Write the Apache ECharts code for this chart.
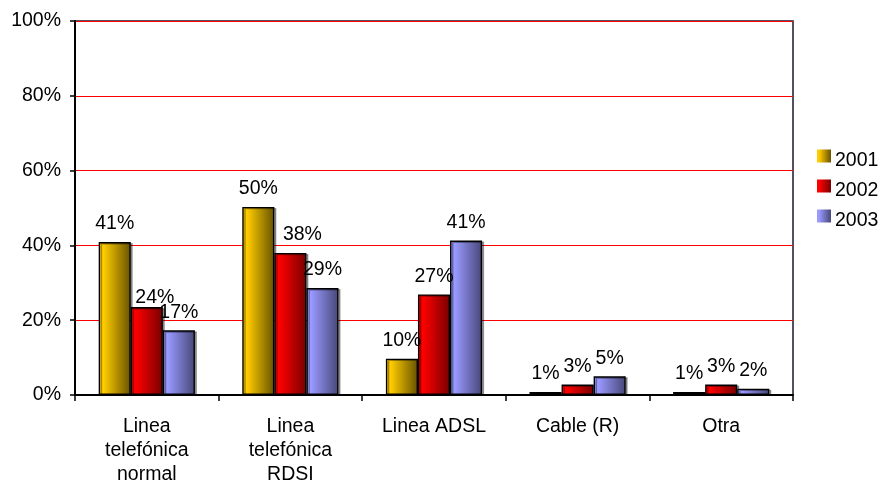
<!DOCTYPE html>
<html>
<head>
<meta charset="utf-8">
<script src="https://cdn.jsdelivr.net/npm/echarts@6/dist/echarts.min.js"></script>
<style>
html,body{margin:0;padding:0;background:#fff;}
#chart{width:882px;height:487px;}
</style>
</head>
<body>
<div id="chart"></div>
<script>
var categories = ['Linea\ntelefónica\nnormal', 'Linea\ntelefónica\nRDSI', 'Linea ADSL', 'Cable (R)', 'Otra'];
var seriesNames = ['2001', '2002', '2003'];
var values2001 = [40.9, 50.3, 9.7, 0.8, 0.8];
var values2002 = [23.5, 38.0, 26.9, 2.8, 2.8];
var values2003 = [17.3, 28.6, 41.3, 5.0, 1.7];
var yTicks = [0, 20, 40, 60, 80, 100];

var FONT = 'Liberation Sans, Arial, sans-serif';
var FS = 19.5;

function grad(c1, c2) {
  return new echarts.graphic.LinearGradient(0, 0, 1, 0, [
    {offset: 0, color: c1},
    {offset: 0.15, color: c1},
    {offset: 1, color: c2}
  ]);
}
var colors = [grad('#FFCC00', '#665200'), grad('#FF0000', '#780000'), grad('#9999FF', '#474778')];
var allValues = [values2001, values2002, values2003];
// label nudges (style only, applied by series index / data index)
var labelNudge = {'1-0': [8, 9], '1-1': [12, 0]};

var series = seriesNames.map(function (name, si) {
  return {
    name: name,
    type: 'bar',
    barGap: '0%',
    barCategoryGap: '33%',
    data: allValues[si].map(function (v, di) {
      var item = {value: v};
      var n = labelNudge[si + '-' + di];
      if (n) item.label = {offset: n};
      return item;
    }),
    itemStyle: {
      color: colors[si],
      borderColor: '#000',
      borderWidth: 1.4,
      shadowColor: 'rgba(0,0,0,0.35)',
      shadowOffsetX: 2,
      shadowOffsetY: 1,
      shadowBlur: 0
    },
    label: {
      show: true,
      position: 'top',
      distance: 8,
      color: '#000',
      fontFamily: FONT,
      fontSize: FS,
      formatter: function (p) { return Math.round(p.value) + '%'; }
    }
  };
});

var chart = echarts.init(document.getElementById('chart'), null, {renderer: 'canvas'});
chart.setOption({
  animation: false,
  backgroundColor: '#fff',
  textStyle: {fontFamily: FONT},
  grid: {left: 75, right: 89, top: 21, bottom: 91, show: true, borderColor: '#1a1a2e', borderWidth: 1.5, containLabel: false},
  legend: {
    orient: 'vertical',
    left: 817,
    top: 141,
    padding: 0,
    itemWidth: 14,
    itemHeight: 13,
    itemGap: 0,
    icon: 'rect',
    itemStyle: {borderWidth: 0, shadowColor: 'transparent'},
    formatter: function (name) { return '{t|' + name + '}'; },
    textStyle: {
      fontFamily: FONT, fontSize: FS, color: '#000',
      rich: {t: {fontFamily: FONT, fontSize: FS, lineHeight: 19, color: '#000', padding: [10, 0, 0, -1]}}
    },
    data: seriesNames
  },
  xAxis: {
    type: 'category',
    data: categories,
    axisLine: {show: true, lineStyle: {color: '#000', width: 2}},
    axisTick: {show: true, length: 6, lineStyle: {color: '#000', width: 1.5}},
    axisLabel: {fontFamily: FONT, fontSize: FS, color: '#000', lineHeight: 24, margin: 20, interval: 0},
    splitLine: {show: false}
  },
  yAxis: {
    type: 'value',
    min: yTicks[0],
    max: yTicks[yTicks.length - 1],
    interval: yTicks[1] - yTicks[0],
    axisLine: {show: true, lineStyle: {color: '#000', width: 2}},
    axisTick: {show: true, length: 5, lineStyle: {color: '#000', width: 1.5}},
    axisLabel: {fontFamily: FONT, fontSize: FS, color: '#000', margin: 14, formatter: '{value}%'},
    splitLine: {show: true, lineStyle: {color: '#FF0000', width: 1}}
  },
  series: series
});
</script>
</body>
</html>
